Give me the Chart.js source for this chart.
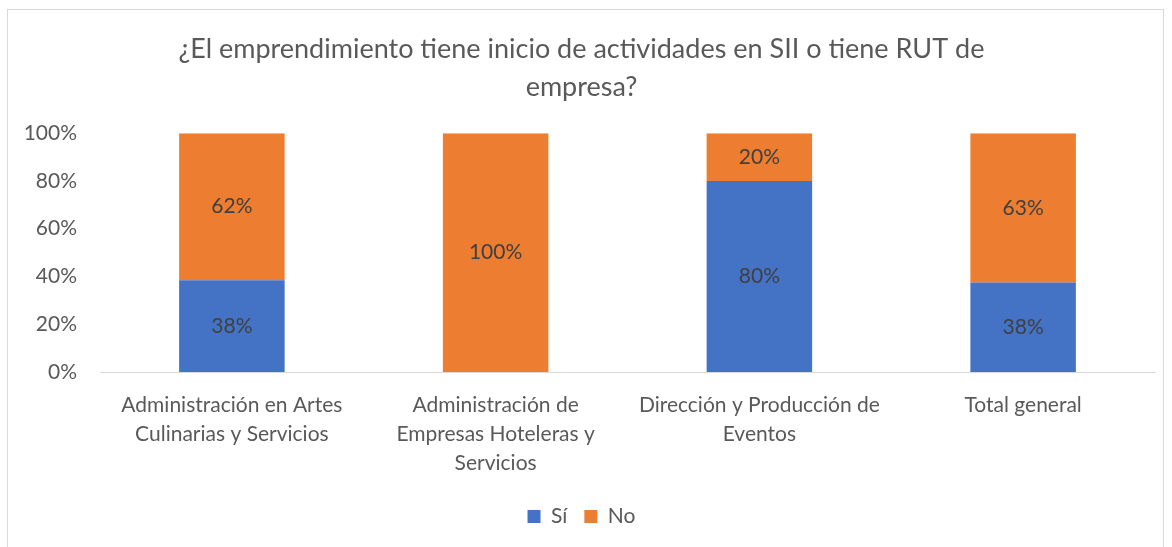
<!DOCTYPE html>
<html>
<head>
<meta charset="utf-8">
<script src="https://cdn.jsdelivr.net/npm/chart.js@4"></script>
<style>
  body { margin: 0; background: #fff; }
  #box { position: absolute; left: 7px; top: 9px; width: 1157px; height: 545px; border: 1px solid #d9d9d9; box-sizing: border-box; }
</style>
</head>
<body>
<div id="box"><canvas id="chart"></canvas></div>
<script>
const categories = [
  ["Administración en Artes", "Culinarias y Servicios"],
  ["Administración de", "Empresas Hoteleras y", "Servicios"],
  ["Dirección y Producción de", "Eventos"],
  ["Total general"],
];
const si = [0.3846, 0, 0.8, 0.375];
const no = [0.6154, 1, 0.2, 0.625];
const yTicks = [0, 0.2, 0.4, 0.6, 0.8, 1];

const FONT = "Lato, 'Open Sans', sans-serif";
const GREY = "#595959";

// draw percentage labels in the middle of each segment
const segmentLabels = {
  id: "segmentLabels",
  afterDatasetsDraw(chart) {
    const ctx = chart.ctx;
    ctx.save();
    ctx.font = "21px " + FONT;
    ctx.fillStyle = "#404040";
    ctx.textAlign = "center";
    ctx.textBaseline = "middle";
    chart.data.datasets.forEach((ds, i) => {
      chart.getDatasetMeta(i).data.forEach((bar, j) => {
        const v = ds.data[j];
        if (!v) return;
        const mid = (bar.y + bar.base) / 2;
        ctx.fillText(Math.round(v * 100) + "%", bar.x, mid);
      });
    });
    ctx.restore();
  },
};

new Chart(document.getElementById("chart"), {
  type: "bar",
  data: {
    labels: categories,
    datasets: [
      { label: "Sí", data: si, backgroundColor: "#4472c4", categoryPercentage: 0.4, barPercentage: 1 },
      { label: "No", data: no, backgroundColor: "#ed7d31", categoryPercentage: 0.4, barPercentage: 1 },
    ],
  },
  options: {
    animation: false,
    responsive: true,
    maintainAspectRatio: false,
    layout: { padding: { left: 0, right: 8, top: 10, bottom: 16 } },
    plugins: {
      title: {
        display: true,
        text: ["¿El emprendimiento tiene inicio de actividades en SII o tiene RUT de", "empresa?"],
        color: GREY,
        font: { family: FONT, size: 27, weight: "normal", lineHeight: 1.41 },
        padding: { top: 10, bottom: 27 },
      },
      legend: {
        position: "bottom",
        labels: {
          color: GREY,
          font: { family: FONT, size: 21 },
          boxWidth: 13,
          boxHeight: 13,
          padding: 17,
        },
      },
      tooltip: { enabled: false },
    },
    scales: {
      x: {
        stacked: true,
        grid: { display: false },
        border: { color: "#d9d9d9" },
        ticks: {
          color: GREY,
          font: { family: FONT, size: 21, lineHeight: 1.38 },
          padding: 11,
          maxRotation: 0,
          autoSkip: false,
        },
      },
      y: {
        stacked: true,
        min: 0,
        max: 1,
        grid: { display: false, drawTicks: false },
        border: { display: false },
        afterBuildTicks(axis) {
          axis.ticks = yTicks.map((v) => ({ value: v }));
        },
        afterFit(axis) {
          axis.width = 92;
        },
        ticks: {
          color: GREY,
          font: { family: FONT, size: 21 },
          padding: 23,
          callback: (v) => Math.round(v * 100) + "%",
        },
      },
    },
  },
  plugins: [segmentLabels],
});
</script>
</body>
</html>
